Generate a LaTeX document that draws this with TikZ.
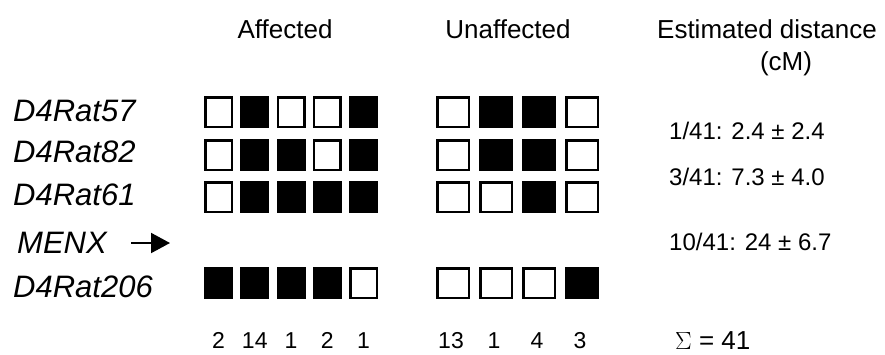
\documentclass[tikz,border=0pt]{standalone}
\usepackage{fontspec}
\setmainfont{Liberation Sans}
\usetikzlibrary{arrows.meta}
\begin{document}
\begin{tikzpicture}[x=1pt,y=-1pt,
  lbl/.style={anchor=base west, inner sep=0pt, font=\fontsize{31}{37}\selectfont\itshape},
  hdr/.style={anchor=base, inner sep=0pt, font=\fontsize{26}{31}\selectfont},
  cnt/.style={anchor=base, inner sep=0pt, font=\fontsize{23}{27}\selectfont},
  val/.style={anchor=base west, inner sep=0pt, font=\fontsize{24}{28}\selectfont},
  abox/.style={draw=black, line width=2.5pt, minimum width=26.5pt, minimum height=29.5pt, inner sep=0pt, outer sep=0pt},
  ubox/.style={abox, minimum width=31.5pt},
]
\useasboundingbox (0,0) rectangle (885,354);

% headers
\node[hdr] (haff) at (285,38) {Affected};
\node[hdr] (hunaff) at (508,38) {Unaffected};
\node[hdr] (hdist) at (767,38) {Estimated distance};
\node[hdr] (hcm) at (786,70) {(cM)};

% marker labels
\node[lbl] (m57) at (13,121) {D4Rat57};
\node[lbl] (m82) at (13,162) {D4Rat82};
\node[lbl] (m61) at (13,205) {D4Rat61};
\node[lbl] (menx) at (17,253) {MENX};
\node[lbl] (m206) at (13,297) {D4Rat206};

% arrow
\coordinate (arrS) at (131,243);
\coordinate (arrE) at (170,243);
\draw[line width=2pt, -{Triangle[length=19pt,width=20pt]}] (arrS) -- (arrE);

% affected boxes
\foreach \r/\yy/\pat in {1/112/{0,1,0,0,1}, 2/155/{0,1,1,0,1}, 3/197/{0,1,1,1,1}, 5/283/{1,1,1,1,0}}{
  \foreach \f [count=\c from 0] in \pat {
    \ifnum\f=1 \def\fc{black}\else\def\fc{white}\fi
    \node[abox, fill=\fc] (a\r\c) at ({218.5+36.25*\c},\yy) {};
  }
}
% unaffected boxes
\foreach \r/\yy/\pat in {1/112/{0,1,1,0}, 2/155/{0,1,1,0}, 3/197/{0,0,1,0}, 5/283/{0,0,0,1}}{
  \foreach \f [count=\c from 0] in \pat {
    \ifnum\f=1 \def\fc{black}\else\def\fc{white}\fi
    \node[ubox, fill=\fc] (u\r\c) at ({453+43*\c},\yy) {};
  }
}

% counts
\foreach \n [count=\c from 0] in {2,14,1,2,1}
  \node[cnt] (ca\c) at ({218.5+36.25*\c},348) {\n};
\foreach \n [count=\c from 0] in {13,1,4,3}
  \node[cnt] (cu\c) at ({451+43*\c},348) {\n};

% distances
\node[val] (d1) at (669,139) {1/41: 2.4 ± 2.4};
\node[val] (d2) at (669,185) {3/41: 7.3 ± 4.0};
\node[val] (d3) at (669,250) {10/41: 24 ± 6.7};
\node[val, font=\fontsize{26}{30}\selectfont] (sum) at (675,349) {$\Sigma$ = 41};
\end{tikzpicture}
\end{document}
